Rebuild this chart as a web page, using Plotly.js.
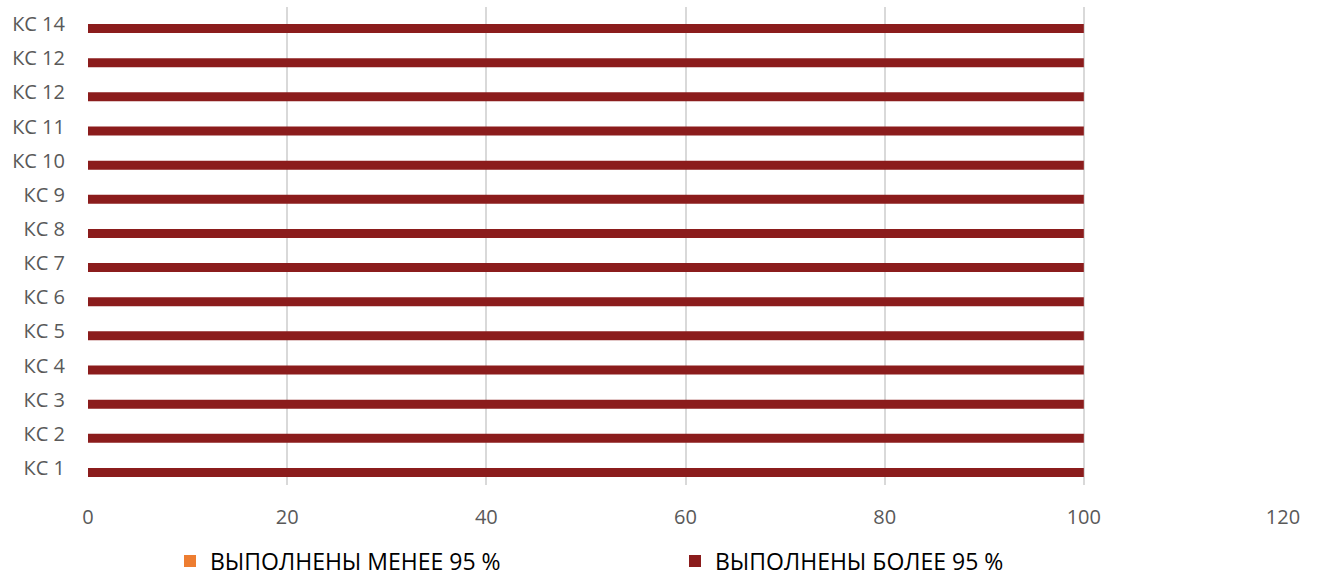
<!DOCTYPE html>
<html>
<head>
<meta charset="utf-8">
<script src="https://cdn.plot.ly/plotly-3.0.1.min.js"></script>
<style>html,body{margin:0;padding:0;background:#fff;}#chart{width:1318px;height:579px;}</style>
</head>
<body>
<div id="chart"></div>
<script>
const categories = ["КС 1","КС 2","КС 3","КС 4","КС 5","КС 6","КС 7","КС 8","КС 9","КС 10","КС 11","КС 12","КС 12","КС 14"];
const positions = [1,2,3,4,5,6,7,8,9,10,11,12,13,14];
const seriesNames = ["ВЫПОЛНЕНЫ МЕНЕЕ 95 %","ВЫПОЛНЕНЫ БОЛЕЕ 95 %"];
const lessThan95 = [0,0,0,0,0,0,0,0,0,0,0,0,0,0];
const moreThan95 = [100,100,100,100,100,100,100,100,100,100,100,100,100,100];
const xTicks = [0,20,40,60,80,100,120];

const barW = 0.264;
const traces = [
  {type:'bar', orientation:'h', name:seriesNames[0], y:positions, x:lessThan95,
   width:barW, offset:0, marker:{color:'#ED7D31'}, hoverinfo:'x+name'},
  {type:'bar', orientation:'h', name:seriesNames[1], y:positions, x:moreThan95,
   width:barW, offset:-barW, marker:{color:'#8B1C1C'}, hoverinfo:'x+name'}
];
const layout = {
  width:1318, height:579,
  margin:{l:88, r:35, t:7, b:94},
  paper_bgcolor:'#fff', plot_bgcolor:'#fff',
  barmode:'overlay',
  font:{family:'Open Sans, sans-serif', color:'#595959', size:20},
  xaxis:{range:[0,120], tickvals:xTicks, showgrid:true, gridcolor:'#d9d9d9', gridwidth:2,
         zeroline:false, showline:false, ticks:'', ticklabelstandoff:18, automargin:false,
         tickfont:{family:'Open Sans, sans-serif', size:20, color:'#595959'}, fixedrange:true},
  yaxis:{range:[0.5,14.5], tickvals:positions, ticktext:categories, showgrid:false, zeroline:false,
         showline:false, ticks:'', ticklabelstandoff:22, automargin:false,
         tickfont:{family:'Open Sans, sans-serif', size:20, color:'#595959'}, fixedrange:true},
  showlegend:true,
  legend:{orientation:'h', xref:'container', yref:'container', x:170/1318, xanchor:'left',
          y:1-561/579, yanchor:'middle',
          font:{family:'Open Sans, sans-serif', size:23, color:'#000'},
          entrywidth:460, entrywidthmode:'pixels', traceorder:'normal'}
};
Plotly.newPlot('chart', traces, layout, {displayModeBar:false, staticPlot:true});
</script>
</body>
</html>
